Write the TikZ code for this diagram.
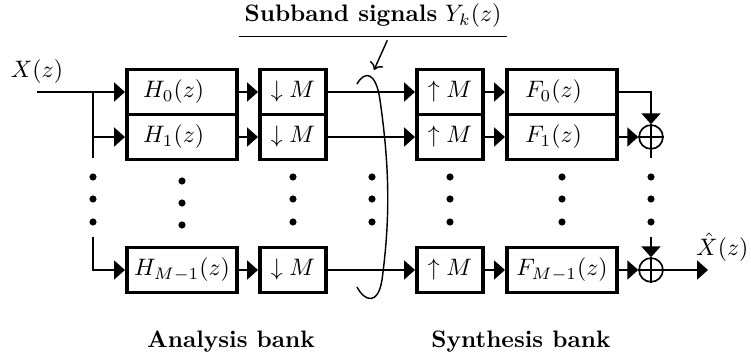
\documentclass[tikz,border=0pt]{standalone}
\usepackage{tikz}
\usetikzlibrary{arrows.meta,positioning}

\begin{document}
\begin{tikzpicture}[
  x=0.42pt,y=-0.42pt,
  filt/.style={rectangle,draw,line width=1.6pt,minimum width=46.3pt,
               minimum height=18.9pt,inner sep=1pt},
  filtshort/.style={filt,execute at end node={\hspace{7pt}}},
  rate/.style={filt,minimum width=27.8pt},
  adder/.style={circle,draw,line width=0.7pt,minimum size=10pt,inner sep=0pt},
  wire/.style={line width=0.7pt},
  sig/.style={wire,-{Triangle[length=4.6pt,width=8pt]}},
  banklabel/.style={font=\bfseries,anchor=base}
]
\useasboundingbox (0,0) rectangle (751,360);

% Geometry in pixel units: columns and rows
\def\xIn{37}  \def\xBr{93}  \def\xH{182} \def\xD{293}
\def\xU{450}  \def\xF{562}  \def\xS{651} \def\xOut{708}
\def\yA{92}   \def\yB{137}  \def\yM{270}

% --- Analysis bank
\node[filtshort] (H0) at (\xH,\yA) {$H_0(z)$};
\node[filtshort] (H1) at (\xH,\yB) {$H_1(z)$};
\node[filt] (HM) at (\xH,\yM) {$H_{M-1}(z)$};
\node[rate] (D0) at (\xD,\yA) {$\downarrow M$};
\node[rate] (D1) at (\xD,\yB) {$\downarrow M$};
\node[rate] (DM) at (\xD,\yM) {$\downarrow M$};

% --- Synthesis bank
\node[rate] (U0) at (\xU,\yA) {$\uparrow M$};
\node[rate] (U1) at (\xU,\yB) {$\uparrow M$};
\node[rate] (UM) at (\xU,\yM) {$\uparrow M$};
\node[filtshort] (F0) at (\xF,\yA) {$F_0(z)$};
\node[filtshort] (F1) at (\xF,\yB) {$F_1(z)$};
\node[filt] (FM) at (\xF,\yM) {$F_{M-1}(z)$};
\node[adder] (S1) at (\xS,\yB) {};
\node[adder] (SM) at (\xS,\yM) {};
\draw[wire] (S1.north) -- (S1.south) (S1.west) -- (S1.east);
\draw[wire] (SM.north) -- (SM.south) (SM.west) -- (SM.east);

% --- Input branch
\coordinate (in)    at (\xIn,\yA);
\coordinate (br0)   at (\xBr,\yA);
\coordinate (brEnd) at (\xBr,158);
\coordinate (brM)   at (\xBr,237);
\node[above=0pt of in] (xin) {$X(z)$};
\draw[sig] (in) -- (H0.west);
\draw[wire] (br0) -- (brEnd);
\draw[sig] (br0 |- H1.west) -- (H1.west);
\draw[sig] (brM) |- (HM.west);

% --- Channels
\foreach \r in {0,1,M} {
  \draw[sig] (H\r.east) -- (D\r.west);
  \draw[sig] (D\r.east) -- (U\r.west);
  \draw[sig] (U\r.east) -- (F\r.west);
}

% --- Summation and output
\coordinate (S1tail) at (\xS,158);
\coordinate (SMin)   at (\xS,237);
\coordinate (out)    at (\xOut,\yM);
\draw[sig] (F0.east) -| (S1.north);
\draw[sig] (F1.east) -- (S1.west);
\draw[wire] (S1.south) -- (S1tail);
\draw[sig] (SMin) -- (SM.north);
\draw[sig] (FM.east) -- (SM.west);
\draw[sig] (SM.east) -- (out);
\node[above=0pt of out,xshift=6pt] (xout) {$\hat{X}(z)$};

% --- Vertical dots
\foreach \x in {\xBr,\xD,372,\xU,\xF,\xS}
  \foreach \y in {177,199,222}
    \fill (\x,\y) circle (1.5pt);
\foreach \y in {181,203,225}
  \fill (\xH,\y) circle (1.5pt);

% --- Subband signals
\coordinate (yk) at (374,70);
\draw[line width=0.6pt] (357,84) .. controls (365,70) and (376,72) .. (380,100)
  .. controls (390,170) and (390,220) .. (382,280)
  .. controls (378,305) and (365,302) .. (357,287);
\node[inner xsep=2pt] (title) at (373,16) {\textbf{Subband signals} $Y_k(z)$};
\draw[line width=0.6pt] (title.south west) -- (title.south east);
\draw[line width=0.6pt,->] ([xshift=6pt,yshift=-1.7pt]title.south) -- (yk);

% --- Bank labels
\node[banklabel] (ana) at (231,348) {Analysis bank};
\node[banklabel] (syn) at (521,348) {Synthesis bank};
\end{tikzpicture}
\end{document}
